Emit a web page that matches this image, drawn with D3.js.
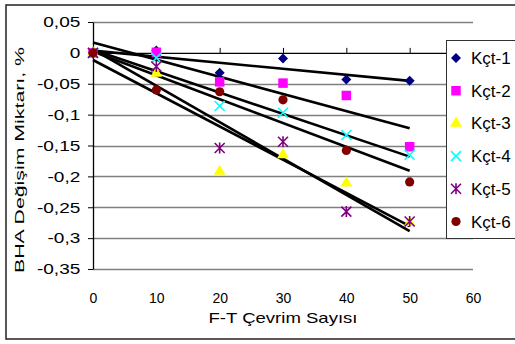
<!DOCTYPE html>
<html>
<head>
<meta charset="utf-8">
<script src="https://cdn.jsdelivr.net/npm/d3@7"></script>
<style>
  body { margin: 0; background: white; }
  text { font-family: "Liberation Sans", Arial, sans-serif; fill: black; }
</style>
</head>
<body>
<div id="chart"></div>
<script>
var cycles = [0, 10, 20, 30, 40, 50];
var seriesNames = ["Kçt-1", "Kçt-2", "Kçt-3", "Kçt-4", "Kçt-5", "Kçt-6"];
var kct1 = [0, 0.004, -0.032, -0.009, -0.043, -0.045];
var kct2 = [0, 0.001, -0.047, -0.049, -0.069, -0.152];
var kct3 = [0, -0.033, -0.192, -0.165, -0.211, -0.275];
var kct4 = [0, -0.008, -0.086, -0.097, -0.133, -0.165];
var kct5 = [0, -0.022, -0.154, -0.144, -0.257, -0.273];
var kct6 = [0, -0.06, -0.063, -0.076, -0.158, -0.209];
var xTicks = [0, 10, 20, 30, 40, 50, 60];
var yTicks = [0.05, 0, -0.05, -0.1, -0.15, -0.2, -0.25, -0.3, -0.35];

var allValues = [kct1, kct2, kct3, kct4, kct5, kct6];
var colors = ["#000080", "#ff00ff", "#ffff00", "#00ffff", "#800080", "#800000"];

var W = 515, H = 344;
var svg = d3.select("#chart").append("svg")
    .attr("width", W)
    .attr("height", H);

// outer chart frame
svg.append("rect")
    .attr("x", 6).attr("y", 5)
    .attr("width", 530).attr("height", 334)
    .attr("fill", "white")
    .attr("stroke", "#222")
    .attr("stroke-width", 1.5);

var x = d3.scaleLinear().domain([0, 60]).range([93, 473]);
var y = d3.scaleLinear().domain([-0.35, 0.05]).range([269, 22]);

var fmt = d3.formatLocale({decimal: ",", thousands: ".", grouping: [3], currency: ["", ""], minus: "-"}).format(".2~f");

// gridlines
svg.append("g").selectAll("line")
    .data(yTicks.filter(function(d) { return d !== 0; }))
    .enter().append("line")
    .attr("x1", x(0)).attr("x2", x(60))
    .attr("y1", function(d) { return Math.round(y(d)) + 0.5; })
    .attr("y2", function(d) { return Math.round(y(d)) + 0.5; })
    .attr("stroke", "#808080")
    .attr("stroke-width", 1.3);

// y axis
var yAxis = svg.append("g")
    .attr("transform", "translate(" + x(0) + ",0)")
    .call(d3.axisLeft(y).tickValues(yTicks).tickSize(5).tickSizeOuter(0).tickPadding(5).tickFormat(fmt));
yAxis.select(".domain").attr("stroke", "black").attr("stroke-width", 1.3);
yAxis.selectAll(".tick line").attr("stroke", "black");
yAxis.selectAll(".tick text")
    .attr("font-size", 15)
    .attr("font-family", null)
    .attr("transform", "scale(1.27,1)");

// x axis at zero, ticks pointing up
var xAxis = svg.append("g")
    .attr("transform", "translate(0," + y(0) + ")")
    .call(d3.axisTop(x).tickValues(xTicks).tickSize(5).tickSizeOuter(0).tickFormat(""));
xAxis.select(".domain").attr("stroke", "black").attr("stroke-width", 1.3);
xAxis.selectAll(".tick line").attr("stroke", "black");

// x tick labels at the bottom
var xLab = svg.append("g")
    .attr("transform", "translate(0," + y(-0.35) + ")")
    .call(d3.axisBottom(x).tickValues(xTicks).tickSize(0).tickPadding(24));
xLab.select(".domain").remove();
xLab.selectAll(".tick text").attr("font-size", 14).attr("font-family", null);

// axis titles
svg.append("text")
    .attr("x", 283).attr("y", 323)
    .attr("text-anchor", "middle")
    .attr("font-size", 15)
    .attr("textLength", 149)
    .attr("lengthAdjust", "spacingAndGlyphs")
    .text("F-T Çevrim Sayısı");

svg.append("text")
    .attr("transform", "translate(24,160) rotate(-90)")
    .attr("text-anchor", "middle")
    .attr("font-size", 13.5)
    .attr("textLength", 226)
    .attr("lengthAdjust", "spacingAndGlyphs")
    .text("BHA Değişim Miktarı, %");

// markers
var symX = {
  draw: function(ctx, size) {
    var h = Math.sqrt(size) / 2;
    ctx.moveTo(-h, -h); ctx.lineTo(h, h);
    ctx.moveTo(-h, h); ctx.lineTo(h, -h);
  }
};
var symStar = {
  draw: function(ctx, size) {
    var h = Math.sqrt(size) / 2;
    ctx.moveTo(-h, -h); ctx.lineTo(h, h);
    ctx.moveTo(-h, h); ctx.lineTo(h, -h);
    ctx.moveTo(0, -h * 1.1); ctx.lineTo(0, h * 1.1);
  }
};
var markers = [
  {type: d3.symbolDiamond2 || d3.symbolDiamond, size: 64, filled: true},
  {type: d3.symbolSquare, size: 90, filled: true},
  {type: d3.symbolTriangle, size: 60, filled: true},
  {type: symX, size: 100, filled: false},
  {type: symStar, size: 100, filled: false},
  {type: d3.symbolCircle, size: 66, filled: true}
];

function styleMarker(sel, i) {
  var m = markers[i];
  sel.attr("d", d3.symbol().type(m.type).size(m.size)())
    .attr("fill", m.filled ? colors[i] : "none")
    .attr("stroke", m.filled ? "none" : colors[i])
    .attr("stroke-width", m.filled ? 0 : 1.6);
}

// linear trendlines (least squares)
function fit(vals) {
  var mx = d3.mean(cycles), my = d3.mean(vals);
  var sxy = d3.sum(cycles, function(c, k) { return (c - mx) * (vals[k] - my); });
  var sxx = d3.sum(cycles, function(c) { return (c - mx) * (c - mx); });
  var b = sxy / sxx;
  return {a: my - b * mx, b: b};
}

var trend = svg.append("g");
allValues.forEach(function(vals) {
  var f = fit(vals);
  var x0 = d3.min(cycles), x1 = d3.max(cycles);
  trend.append("line")
    .attr("x1", x(x0)).attr("y1", y(f.a + f.b * x0))
    .attr("x2", x(x1)).attr("y2", y(f.a + f.b * x1))
    .attr("stroke", "black")
    .attr("stroke-width", 2.6);
});

allValues.forEach(function(vals, i) {
  svg.append("g").selectAll("path")
    .data(vals)
    .enter().append("path")
    .attr("transform", function(d, k) { return "translate(" + x(cycles[k]) + "," + y(d) + ")"; })
    .call(styleMarker, i);
});

// legend
var legend = svg.append("g");
legend.append("rect")
    .attr("x", 446.5).attr("y", 40.5)
    .attr("width", 100).attr("height", 198)
    .attr("fill", "white")
    .attr("stroke", "#333")
    .attr("stroke-width", 1);

var item = legend.selectAll(".item")
    .data(seriesNames)
    .enter().append("g")
    .attr("transform", function(d, i) { return "translate(456," + (58 + i * 32.7) + ")"; });
item.append("path").each(function(d, i) { d3.select(this).call(styleMarker, i); });
item.append("text")
    .attr("x", 15).attr("y", 6)
    .attr("font-size", 17)
    .text(function(d) { return d; });
</script>
</body>
</html>
